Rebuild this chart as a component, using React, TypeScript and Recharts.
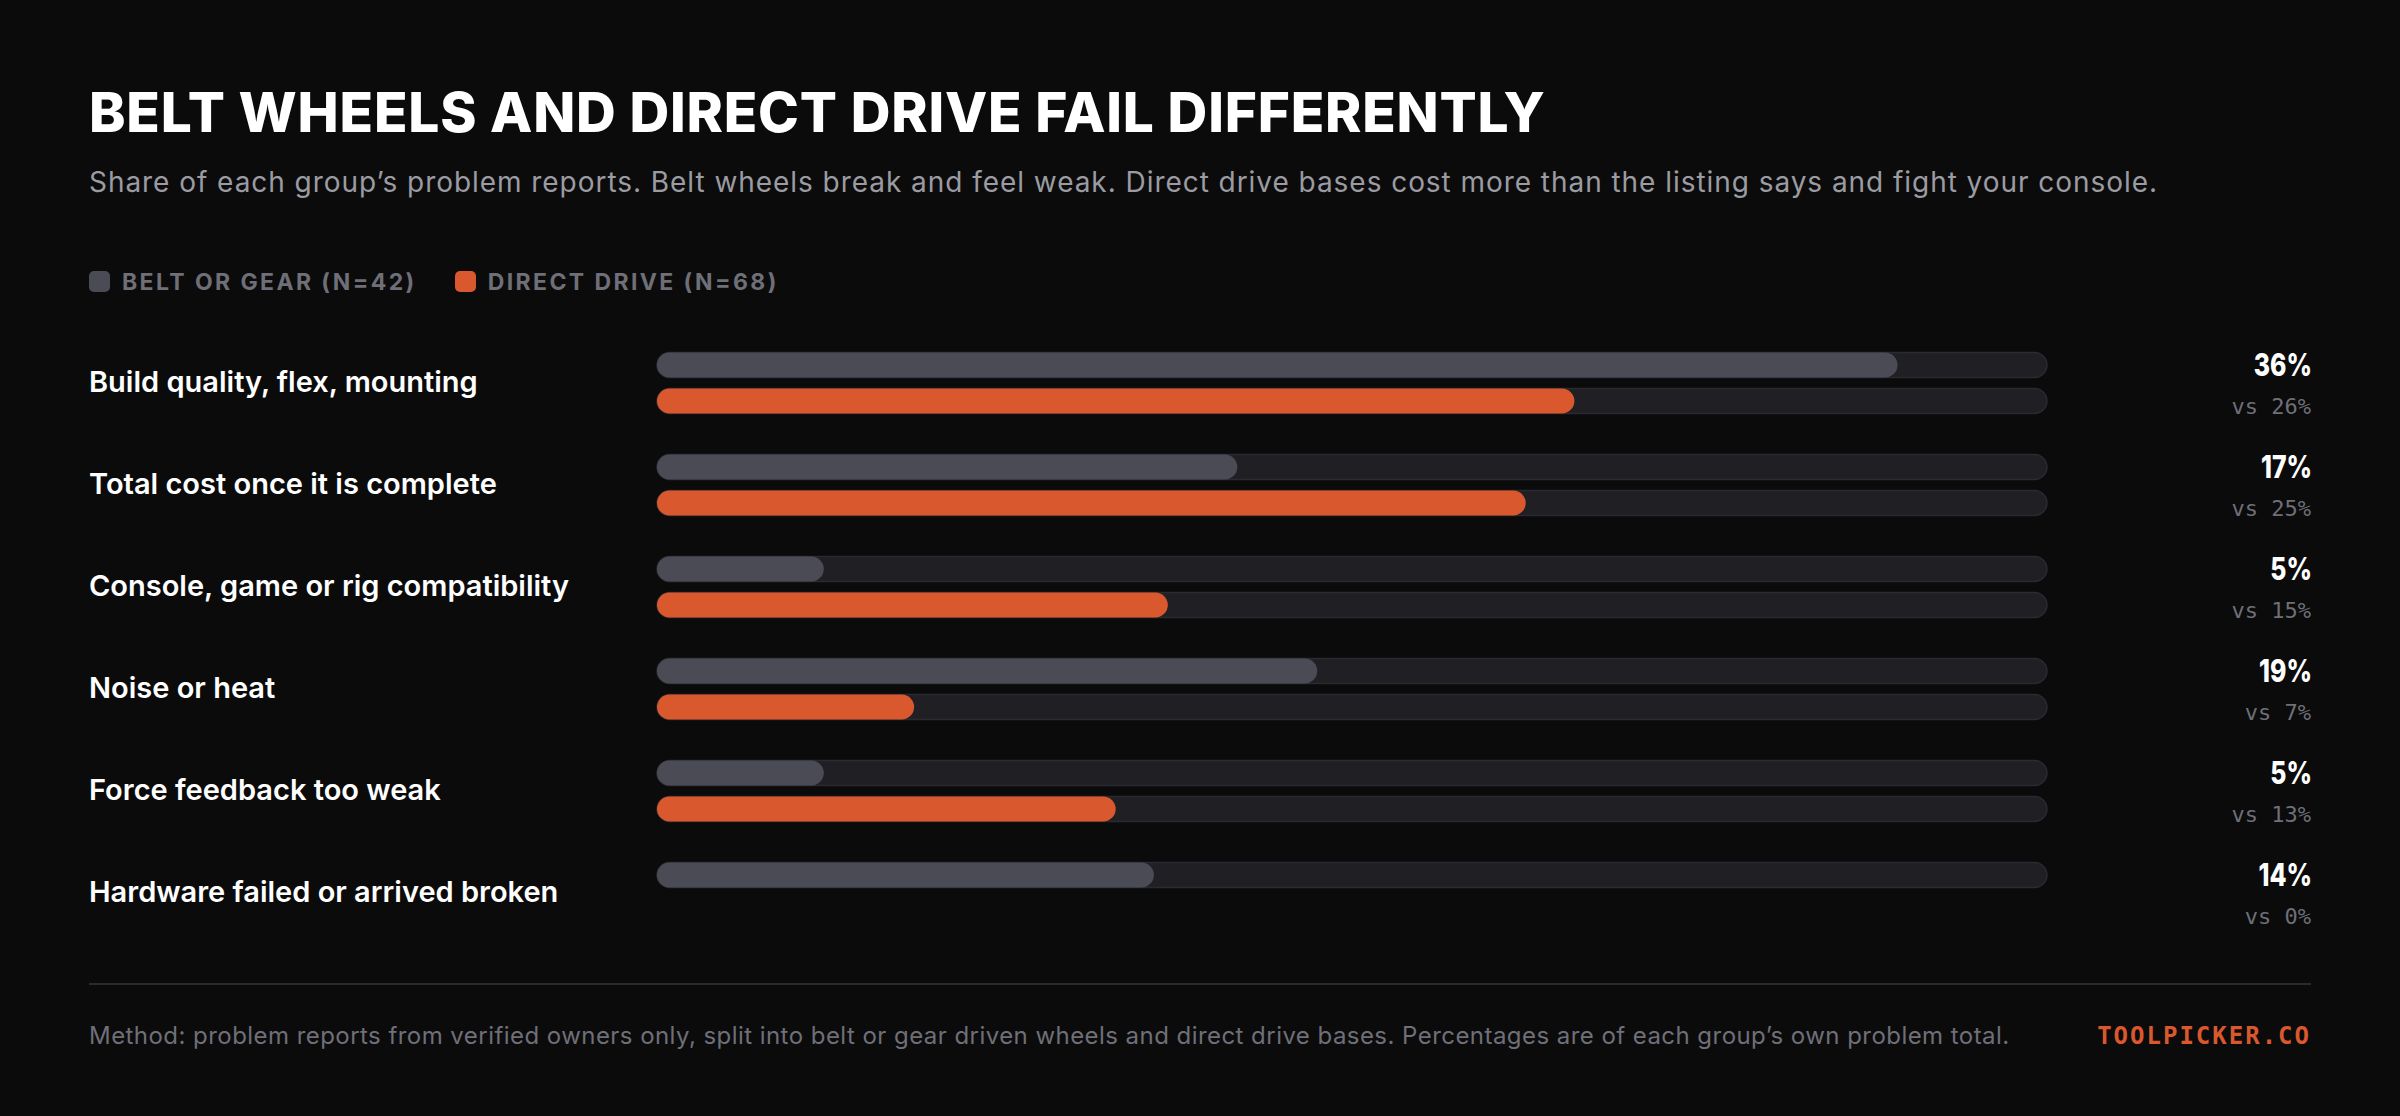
import { BarChart, Bar, XAxis, YAxis } from "recharts";

// problem categories, top to bottom
const categories = [
  "Build quality, flex, mounting",
  "Total cost once it is complete",
  "Console, game or rig compatibility",
  "Noise or heat",
  "Force feedback too weak",
  "Hardware failed or arrived broken",
];

// share of each group's problem reports (%)
const beltShare = [35.7, 16.7, 4.8, 19.0, 4.8, 14.3];
const directShare = [26.4, 25.0, 14.7, 7.4, 13.2, 0];

const xDomain = [0, 40];

const BG = "#0b0b0c";
const BELT = "#4b4b55";
const DIRECT = "#d9582d";
const TRACK = "#1f1f24";
const TRACK_EDGE = "#2a2a30";
const MUTED = "#6f6f78";
const SANS = "Inter, 'Noto Sans', sans-serif";
const MONO = "'DejaVu Sans Mono', 'Liberation Mono', monospace";

const rows = categories.map((name, i) => ({
  name,
  belt: beltShare[i],
  direct: directShare[i],
}));

const LeftTick = (props: any) => {
  const { y, payload } = props;
  return (
    <text x={89} y={y + 9.5} fill="#ffffff" fontFamily={SANS} fontSize={29} fontWeight={600}>
      {payload.value}
    </text>
  );
};

const RightTick = (props: any) => {
  const { y, payload } = props;
  const row = rows.find((r) => r.name === payload.value);
  if (!row) return null;
  return (
    <g>
      {/* the big number uses a narrow display face, squeeze Inter to match */}
      <text
        transform={`translate(2312, ${y - 6.5}) scale(0.8, 1)`}
        textAnchor="end"
        fill="#ffffff"
        fontFamily={SANS}
        fontSize={31}
        fontWeight={800}
      >
        {Math.round(row.belt)}%
      </text>
      <text x={2311} y={y + 31.5} textAnchor="end" fill={MUTED} fontFamily={MONO} fontSize={22}>
        vs {Math.round(row.direct)}%
      </text>
    </g>
  );
};

const LegendItem = ({ color, label }: { color: string; label: string }) => (
  <div style={{ display: "flex", alignItems: "center", marginRight: 38 }}>
    <div style={{ width: 21, height: 21, borderRadius: 5, background: color, marginRight: 12 }} />
    <span style={{ color: MUTED, fontSize: 23, fontWeight: 700, letterSpacing: 2.4 }}>{label}</span>
  </div>
);

export default function App() {
  return (
    <div
      style={{
        position: "absolute",
        left: 0,
        top: 0,
        width: 2400,
        height: 1116,
        background: BG,
        fontFamily: SANS,
        overflow: "hidden",
      }}
    >
      <div
        style={{
          position: "absolute",
          left: 89,
          top: 85,
          fontSize: 55,
          lineHeight: "55px",
          fontWeight: 800,
          color: "#ffffff",
          letterSpacing: 0.8,
          whiteSpace: "nowrap",
        }}
      >
        BELT WHEELS AND DIRECT DRIVE FAIL DIFFERENTLY
      </div>
      <div
        style={{
          position: "absolute",
          left: 89,
          top: 168,
          fontSize: 28,
          lineHeight: "28px",
          color: "#9b9ba2",
          letterSpacing: 0.95,
          whiteSpace: "nowrap",
        }}
      >
        Share of each group’s problem reports. Belt wheels break and feel weak. Direct drive bases cost more than the listing says and fight your console.
      </div>

      <div style={{ position: "absolute", left: 89, top: 271, height: 21, display: "flex" }}>
        <LegendItem color={BELT} label="BELT OR GEAR (N=42)" />
        <LegendItem color={DIRECT} label="DIRECT DRIVE (N=68)" />
      </div>

      <div style={{ position: "absolute", left: 0, top: 0 }}>
        <BarChart
          width={2400}
          height={1116}
          data={rows}
          layout="vertical"
          margin={{ top: 331.5, right: 0, bottom: 172.5, left: 0 }}
          barSize={25}
          barGap={11}
        >
          <XAxis type="number" domain={xDomain} hide />
          <YAxis
            yAxisId="left"
            type="category"
            dataKey="name"
            width={657}
            axisLine={false}
            tickLine={false}
            interval={0}
            tick={(p: any) => <LeftTick {...p} />}
          />
          <YAxis
            yAxisId="right"
            orientation="right"
            type="category"
            dataKey="name"
            width={353}
            axisLine={false}
            tickLine={false}
            interval={0}
            tick={(p: any) => <RightTick {...p} />}
          />
          <Bar
            yAxisId="left"
            dataKey="belt"
            fill={BELT}
            radius={12.5}
            background={{ fill: TRACK, stroke: TRACK_EDGE, strokeWidth: 1.5, radius: 12.5 }}
            isAnimationActive={false}
          />
          <Bar
            yAxisId="left"
            dataKey="direct"
            fill={DIRECT}
            radius={12.5}
            background={{ fill: TRACK, stroke: TRACK_EDGE, strokeWidth: 1.5, radius: 12.5 }}
            isAnimationActive={false}
          />
        </BarChart>
      </div>

      <div style={{ position: "absolute", left: 89, top: 983, width: 2222, height: 2, background: "#2a2a30" }} />

      <div
        style={{
          position: "absolute",
          left: 89,
          top: 1024,
          fontSize: 24,
          lineHeight: "24px",
          color: MUTED,
          letterSpacing: 0.45,
          whiteSpace: "nowrap",
        }}
      >
        Method: problem reports from verified owners only, split into belt or gear driven wheels and direct drive bases. Percentages are of each group’s own problem total.
      </div>
      <div
        style={{
          position: "absolute",
          right: 89,
          top: 1024,
          fontSize: 24,
          lineHeight: "24px",
          fontFamily: MONO,
          fontWeight: 700,
          color: DIRECT,
          letterSpacing: 2,
          whiteSpace: "nowrap",
        }}
      >
        TOOLPICKER.CO
      </div>
    </div>
  );
}
